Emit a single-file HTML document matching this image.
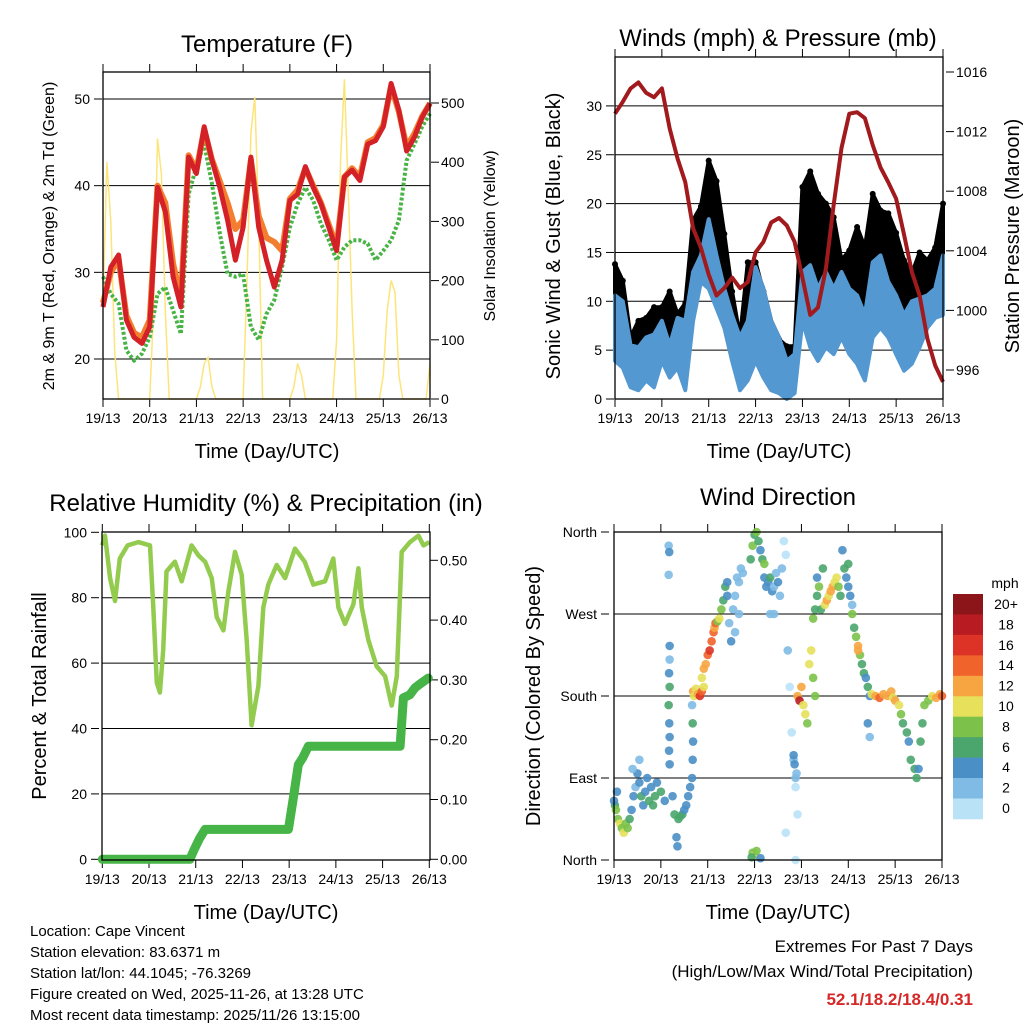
<!DOCTYPE html>
<html><head><meta charset="utf-8">
<style>
html,body{margin:0;padding:0;background:#fff;}
svg{display:block;font-family:"Liberation Sans",Arial,sans-serif;}
</style></head>
<body>
<svg id="chart" width="1024" height="1024" viewBox="0 0 1024 1024">
<rect x="0" y="0" width="1024" height="1024" fill="#fff"/>
<text x="267" y="52" font-size="24" text-anchor="middle">Temperature (F)</text>
<text x="778" y="46" font-size="24" text-anchor="middle">Winds (mph) &amp; Pressure (mb)</text>
<text x="266" y="511" font-size="24" text-anchor="middle">Relative Humidity (%) &amp; Precipitation (in)</text>
<text x="778" y="505" font-size="24" text-anchor="middle">Wind Direction</text>
<text x="267" y="458" font-size="20" text-anchor="middle">Time (Day/UTC)</text>
<text x="779" y="458" font-size="20" text-anchor="middle">Time (Day/UTC)</text>
<text x="266" y="919" font-size="20" text-anchor="middle">Time (Day/UTC)</text>
<text x="778" y="919" font-size="20" text-anchor="middle">Time (Day/UTC)</text>
<text transform="translate(54,236) rotate(-90)" font-size="16" text-anchor="middle">2m &amp; 9m T (Red, Orange) &amp; 2m Td (Green)</text>
<text transform="translate(495,236) rotate(-90)" font-size="16" text-anchor="middle">Solar Insolation (Yellow)</text>
<text transform="translate(560,236) rotate(-90)" font-size="20" text-anchor="middle">Sonic Wind &amp; Gust (Blue, Black)</text>
<text transform="translate(1019,236) rotate(-90)" font-size="20" text-anchor="middle">Station Pressure (Maroon)</text>
<text transform="translate(46,696) rotate(-90)" font-size="20" text-anchor="middle">Percent &amp; Total Rainfall</text>
<text transform="translate(540,696) rotate(-90)" font-size="20" text-anchor="middle">Direction (Colored By Speed)</text>
<g font-size="15">
<text x="30" y="936">Location: Cape Vincent</text>
<text x="30" y="957">Station elevation: 83.6371 m</text>
<text x="30" y="978">Station lat/lon: 44.1045; -76.3269</text>
<text x="30" y="999">Figure created on Wed, 2025-11-26, at 13:28 UTC</text>
<text x="30" y="1020">Most recent data timestamp: 2025/11/26 13:15:00</text>
</g>
<text x="973" y="952" font-size="17" text-anchor="end">Extremes For Past 7 Days</text>
<text x="973" y="977" font-size="17" text-anchor="end">(High/Low/Max Wind/Total Precipitation)</text>
<text x="973" y="1005" font-size="17" font-weight="bold" fill="#d62828" text-anchor="end">52.1/18.2/18.4/0.31</text>
<text x="1005" y="588" font-size="14" text-anchor="middle">mph</text>
</svg>
<script>
// ---------- data ----------
const dayLabels=["19/13","20/13","21/13","22/13","23/13","24/13","25/13","26/13"];
const t4=[0,4,8,12,16,20,24,28,32,36,40,44,48,52,56,60,64,68,72,76,80,84,88,92,96,100,104,108,112,116,120,124,128,132,136,140,144,148,152,156,160,164,168];
const tempRed=[26,30.6,32,24.5,22.5,21.8,23.7,39.8,37,29.5,26,43.3,41.4,46.8,42.9,39.8,36,31.4,35.2,43.3,35.2,31.4,28.3,31.4,38.3,39,42.2,39.8,37.9,35.2,32.5,41,41.8,40.6,44.8,45.2,46.8,51.8,48.7,44,45.6,47.9,49.5];
const tempOrange=[26.5,30,31.5,25,23,22.5,24.5,40,38,31,27,43.5,41.8,46.5,43,40.5,38,35,36,43,36.5,34,33.5,32.5,38.5,39.5,42,40,38,35.5,33,41,42,41,45,45.5,47,51.5,48.5,44.5,46,48,49.5];
const dewGreen=[29.5,27.5,26.4,21,19.8,20.6,22.5,27.5,28.3,25.6,22.9,39,42.2,44.8,40.2,34.5,29.8,29.5,29.8,23.7,22.2,25.2,26.8,30.6,35.2,37.9,39.8,38.3,35.6,33.7,31.4,32.9,33.7,33.7,33.3,31.4,32.5,33.7,36,42.9,44.8,46.8,48.3];
const solarT=[0,2,4,6,8,22,24,26,28,30,32,34,36,48,50,52,54,56,58,60,72,74,76,78,80,82,84,96,98,100,102,104,106,118,120,122,124,126,128,130,132,142,144,146,148,150,152,154,156,166,168];
const solarW=[160,400,300,80,0,0,0,150,440,380,150,0,0,0,20,60,70,20,0,0,0,200,450,510,300,0,0,0,20,60,40,0,0,0,100,400,540,350,150,0,0,0,40,150,200,180,40,0,0,0,60];
const windMax=[10.6,10,5.5,5.3,6.3,6.6,8,5.5,8.3,8,13,14.7,18.4,14.7,11.3,8.6,6.3,8,13.5,11.3,8,6.3,3.9,4.6,13,13.7,11.3,13,11.3,13,11.3,10.6,8.6,14,14.7,12,10.6,8.6,10,10.3,10.6,11.3,14.7];
const windMin=[3.9,3.2,1.2,0.9,1.9,1.2,3.9,2.2,3.2,0.9,8,12,11.3,9.3,7.3,3.9,0.9,1.9,3.9,2.2,0.9,0.6,0,0.6,8,5.3,3.9,5.3,4.6,6.3,4.6,3.6,1.9,6.3,7.3,6.3,4.6,2.9,3.6,5.3,7.3,8.3,8.6];
const gustMax=[13.8,12.1,6.3,8,8.3,9.4,9.4,11,8.7,9.8,18.3,19.7,24.4,22.3,16.9,11,6.3,14,14,11,7.5,6.1,5.4,5.4,21.7,23.3,21,20,18.6,14.2,15.2,17.6,15.5,21,19.3,19,17,14.2,12.8,15,14.2,15.5,20];
const pressure=[1013.2,1014,1014.9,1015.3,1014.6,1014.3,1014.9,1012.2,1010.2,1008.6,1005.5,1004.2,1002.4,1001,1001.5,1002.2,1001.5,1001.9,1003.9,1004.6,1005.9,1006.2,1005.7,1004.6,1002.2,999.7,1000.2,1002.8,1007.1,1010.9,1013.2,1013.3,1012.9,1011.1,1009.6,1008.6,1007.5,1005.1,1002.6,1001,998.1,996.3,995.2];
const rhT=[0,1.4,4,6.5,9,13,18.5,24.5,26.2,28,29.6,31.3,33,37.3,40.8,45.9,49.3,52.8,56.2,58.8,62.2,64.8,68.2,71.6,74.2,76.7,80.2,82.7,85.3,89.6,93.9,99,104,108.4,114.4,118.7,121.3,124.7,129,131.6,133.3,136.7,141,145.3,148.7,151.3,153.8,158.1,162.4,165,168];
const rhV=[96,99,86,79,92,96,97,96,77,54,51,64,88,91,85,96,93,91,86,74,70,82,94,87,67,41,53,77,84,90,86,95,91,84,85,92,77,72,78,89,77,67,59,56,47,56,94,97,99,96,97];
const precipT=[0,45,47,50,52.8,95.6,98,100.7,103,105.9,153,154.7,158,160.7,164,167.5];
const precipV=[0,0,0.015,0.035,0.05,0.05,0.1,0.158,0.17,0.189,0.189,0.27,0.275,0.287,0.295,0.303];
const dirT=[0.5,1,2,3,4,5,6,7,8,1.5,0, 9,10,11,12,13,14,15,16,17,18,19,20,21,22,24,26,9.5,13, 28,28.3,28,28.5,28.5,28.2,28.5,28,28.3,28.5,28.2,28.5, 30,31,32,32.5,33,34,35,36,37,38,39,40, 40,40.3,40.5,40.3, 40.5,41,42,43,44,45,46, 45,46,47,48,49,50,51,51.5,52,53,54,55,56,57,58, 58,59,60,61,62,63,64,65,66,64,62, 70,71,72,73,74,75,76,77, 77,78,79,80,81,82,83,84,85,86,80,82, 71,72,73,70.5,75, 87,88,89,90,91,92,93,94,88,93, 92,92.5,93,93.5, 94,95,96,97,98,99, 100,101,102,103, 102,103,104,105,106,107,104, 108,109,110,111,112,113,114,115,116, 117,118,119,120,121,122,120, 122,123,124,125,126,127,128,125, 129,130,131,130,131, 132,134,136,138,140,142,143, 144,146,147,148,150,151,152,154,155,156,157,158, 159,161,163,165,167,168];
const dirV=[60,55,45,40,35,30,40,35,45,75,65, 55,70,80,95,85,70,60,75,90,65,80,60,70,85,75,65,100,110, 345,338,313,235,220,205,190,170,150,135,120,105, 70,50,25,15,45,48,50,55,60,70,80,90, 170,150,130,110, 185,180,188,182,180,185,190, 200,210,215,225,230,240,250,255,260,262,265,275,285,300,305, 290,260,240,275,290,310,305,320,315,270,250, 330,345,357,360,350,340,330,325, 310,300,305,310,295,300,315,305,290,320,270,270, 8,5,10,3,2, 350,335,230,190,140,110,80,50,30,0, 115,105,90,95, 180,175,190,170,160,150, 215,230,200,180, 265,275,290,300,275,320,310, 280,285,290,295,300,305,310,300,290, 340,320,310,300,290,280,325, 270,255,245,235,225,215,205,230, 200,190,180,150,135, 182,180,178,182,180,185,178, 175,170,160,150,140,130,110,100,90,100,130,150, 170,175,180,178,182,180];
const dirS=[7,8,9,10,9,10,9,8,7,5,4, 4,4,3,4,5,6,4,5,4,6,5,6,7,5,6,4,2,3, 3,4,2,4,3,4,6,6,5,4,4,4, 4,6,4,4,7,7,6,5,4,4,4,4, 3,6,5,4, 12,11,10,12,16,15,11, 10,12,12,14,17,14,14,12,15,9,10,8,7,6,5, 4,3,4,3,3,2,3,2,3,3,2, 6,8,7,8,6,5,7,9, 4,5,4,6,4,2,2,4,2,3,3,2, 9,10,8,6,4, 1,1,2,1,1,2,1,1,1,1, 4,4,3,2, 12,18,12,10,10,8, 10,10,9,8, 8,7,6,8,6,7,5, 10,12,11,12,12,11,10,8,7, 4,6,4,5,4,3,6, 8,6,8,12,9,7,6,12, 5,6,4,4,3, 10,12,15,13,12,12,10, 12,10,8,7,6,5,6,6,6,5,7,6, 8,9,10,12,13,14];
const speedLabels=["20+","18","16","14","12","10","8","6","4","2","0"];
const speedColors=["#b9e2f7","#7fbbe4","#4a8fc6","#4aa66c","#7cc24a","#e6e05a","#f7a540","#f0632b","#dc3326","#b81c22","#8b1518"];
const tempTicks=[20,30,40,50];
const solarTicks=[0,100,200,300,400,500];
const windTicks=[0,5,10,15,20,25,30];
const presTicks=[996,1000,1004,1008,1012,1016];
const rhTicks=[0,20,40,60,80,100];
const rainTicks=["0.00","0.10","0.20","0.30","0.40","0.50"];
const dirTicks=["North","East","South","West","North"];

// ---------- helpers ----------
const NS="http://www.w3.org/2000/svg";
const svg=document.getElementById("chart");
function mk(tag,attrs,parent){const e=document.createElementNS(NS,tag);for(const k in attrs)e.setAttribute(k,attrs[k]);(parent||svg).appendChild(e);return e;}
function pts(xs,ys,fx,fy){return xs.map((x,i)=>fx(x).toFixed(1)+","+fy(ys[i]).toFixed(1)).join(" ");}

// ---------- axes ----------
const tx=t=>103+t/168*327, ty=v=>359-(v-20)*8.667, sy=w=>399-w*0.592;
const wx=t=>615+t/168*328, wy=v=>399-v*9.77, py=p=>370-(p-996)*14.9;
const rx=t=>102.3+t/168*327, ry=v=>859.3-v*3.27, pry=p=>859.3-p*598;
const dx=t=>614+t/168*328, dy=d=>860-d*0.9111;

function frame(name,x0,y0,x1,y1,xf){
  const g=mk("g",{});
  
  
  for(let d=0;d<=7;d++){
    const x=xf(d*24);
    const a=mk("line",{x1:x,y1:y0,x2:x,y2:y0-8,stroke:"#000","stroke-width":1},g);
    
    
    const b=mk("line",{x1:x,y1:y1,x2:x,y2:y1+8,stroke:"#000","stroke-width":1},g);
    
    
    const l=mk("text",{x:x,y:y1+24,"font-size":14,"text-anchor":"middle"},g);
    l.textContent=dayLabels[d];
    
    
  }
  return g;
}
function box(name,x0,y0,x1,y1){
  const r=mk("rect",{x:x0,y:y0,width:x1-x0,height:y1-y0,fill:"none",stroke:"#000","stroke-width":1.3});
  
  
}
function grid(x0,x1,y,name){
  const l=mk("line",{x1:x0,y1:y,x2:x1,y2:y,stroke:"#000","stroke-width":1});
  
  
}
function ylab(x,y,txt,anchor,name){
  const l=mk("text",{x:x,y:y+5,"font-size":14,"text-anchor":anchor});
  l.textContent=txt;
  
  
  const tk=mk("line",{x1:anchor==="end"?x+4:x-10,y1:y,x2:anchor==="end"?x+12:x-2,y2:y,stroke:"#000"});
  
  
}

// ===== Temperature panel =====
frame("temp",103,72,430,399,tx);
tempTicks.forEach(v=>{grid(103,430,ty(v),'temp-gridline');ylab(90,ty(v),String(v),"end",'temp-y-tick-label');});
solarTicks.forEach(v=>ylab(441,sy(v),String(v),"start",'solar-y-tick-label'));
const solarLine=mk("polyline",{points:pts(solarT,solarW,tx,sy),fill:"none",stroke:"#fde47a","stroke-width":1.5});


const greenLine=mk("polyline",{points:pts(t4,dewGreen,tx,ty),fill:"none",stroke:"#49b446","stroke-width":4,"stroke-dasharray":"3 2","stroke-linejoin":"round"});


const orangeLine=mk("polyline",{points:pts(t4,tempOrange,tx,ty),fill:"none",stroke:"#f47e2f","stroke-width":6,"stroke-linejoin":"round"});


const redLine=mk("polyline",{points:pts(t4,tempRed,tx,ty),fill:"none",stroke:"#d42127","stroke-width":5,"stroke-linejoin":"round"});


box("temp",103,72,430,399);

// ===== Winds panel =====
frame("wind",615,57,943,399,wx);
windTicks.forEach(v=>{if(v>0)grid(615,943,wy(v),'wind-gridline');ylab(602,wy(v),String(v),"end",'wind-y-tick-label');});
presTicks.forEach(v=>ylab(956,py(v),String(v),"start",'pressure-y-tick-label'));
const gustArea=mk("polygon",{points:pts(t4,windMax,wx,wy)+" "+pts(t4.slice().reverse(),gustMax.slice().reverse(),wx,wy),fill:"#000",stroke:"#000","stroke-width":4,"stroke-linejoin":"round"});


t4.forEach((t,i)=>{
  const c=mk("circle",{cx:wx(t),cy:wy(gustMax[i]),r:3,fill:"#000"});
  
  
});
const windArea=mk("polygon",{points:pts(t4,windMin,wx,wy)+" "+pts(t4.slice().reverse(),windMax.slice().reverse(),wx,wy),fill:"#5498d2",stroke:"#5498d2","stroke-width":4,"stroke-linejoin":"round"});


const presLine=mk("polyline",{points:pts(t4,pressure,wx,py),fill:"none",stroke:"#a11a1d","stroke-width":4,"stroke-linejoin":"round"});


box("wind",615,57,943,399);

// ===== RH panel =====
frame("rh",102,532,430,860,rx);
rhTicks.forEach(v=>{if(v>0&&v<100)grid(102,430,ry(v),'rh-gridline');ylab(87,ry(v),String(v),"end",'rh-y-tick-label');});
rainTicks.forEach(v=>ylab(440,pry(parseFloat(v)),v,"start",'rain-y-tick-label'));
const rhLine=mk("polyline",{points:pts(rhT,rhV,rx,ry),fill:"none",stroke:"#93cb4f","stroke-width":4.5,"stroke-linejoin":"round"});


const rainLine=mk("polyline",{points:pts(precipT,precipV,rx,pry),fill:"none",stroke:"#46b446","stroke-width":9,"stroke-linejoin":"round","stroke-linecap":"round"});


box("rh",102,532,430,860);

// ===== Wind direction panel =====
frame("dir",614,532,942,860,dx);
dirTicks.forEach((n,i)=>{const y=dy(i*90);if(i>0&&i<4)grid(614,942,y,'dir-gridline');ylab(597,y,n,"end",'dir-y-tick-label');});
dirT.forEach((t,i)=>{
  const idx=Math.min(10,Math.floor(dirS[i]/2));
  const c=mk("circle",{cx:dx(t),cy:dy(dirV[i]),r:4.3,fill:speedColors[idx],"fill-opacity":0.9});
  
  
});
box("dir",614,532,942,860);

// colorbar
speedColors.slice().reverse().forEach((c,i)=>{
  const r=mk("rect",{x:953,y:594+i*20.45,width:30,height:20.8,fill:c});
  
  
});
speedLabels.forEach((s,i)=>{
  const l=mk("text",{x:1006,y:609+i*20.4,"font-size":14,"text-anchor":"middle"});
  l.textContent=s;
  
  
});
</script>
</body></html>
